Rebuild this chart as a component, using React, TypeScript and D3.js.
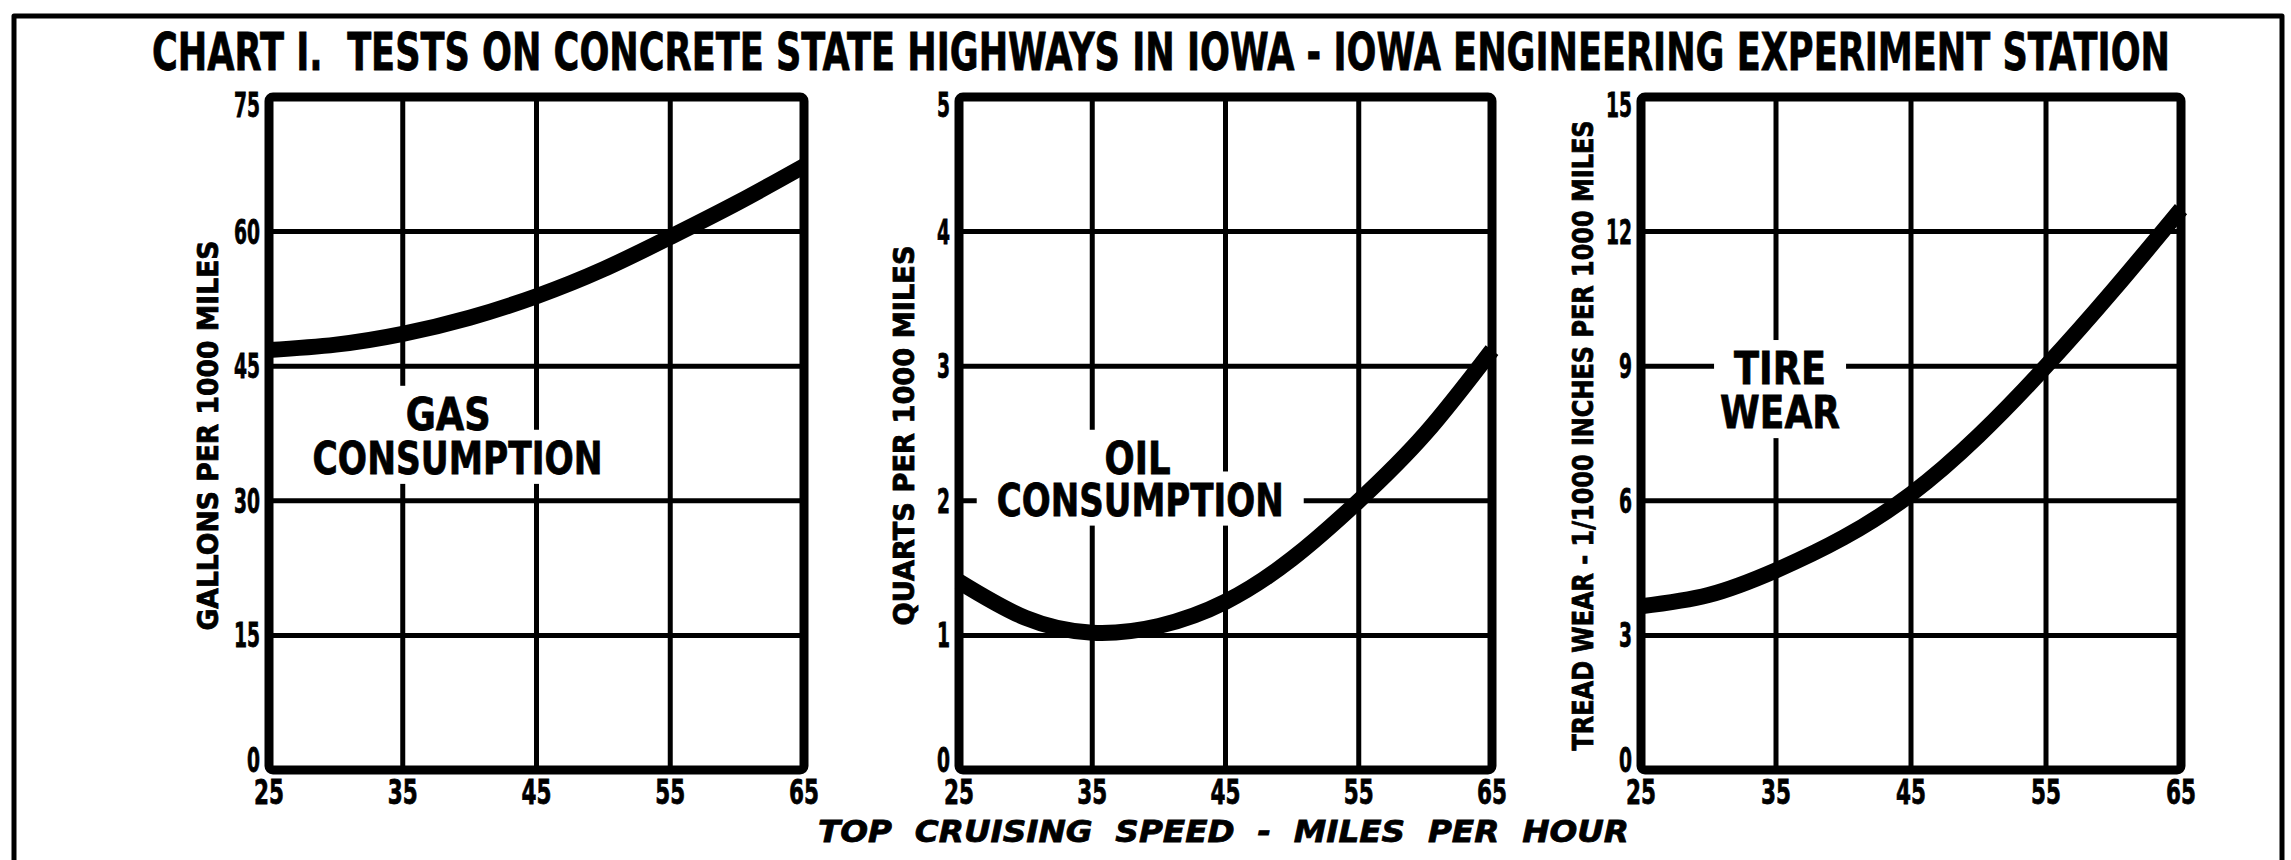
import * as d3 from "d3";

const speeds = [25, 30, 35, 40, 45, 50, 55, 60, 65];
const speedTicks = [25, 35, 45, 55, 65];

// gallons per 1000 miles
const gasValues = [46.8, 47.4, 48.6, 50.4, 52.8, 55.8, 59.4, 63.2, 67.3];
const gasTicks = [0, 15, 30, 45, 60, 75];

// quarts per 1000 miles
const oilValues = [1.4, 1.13, 1.02, 1.07, 1.25, 1.57, 2.0, 2.5, 3.12];
const oilTicks = [0, 1, 2, 3, 4, 5];

// tread wear, 1/1000 inches per 1000 miles
const tireValues = [3.65, 3.9, 4.45, 5.18, 6.15, 7.45, 9.0, 10.7, 12.5];
const tireTicks = [0, 3, 6, 9, 12, 15];

const chartTitle = "CHART I.  TESTS ON CONCRETE STATE HIGHWAYS IN IOWA - IOWA ENGINEERING EXPERIMENT STATION";
const xTitle = "TOP  CRUISING  SPEED  -  MILES  PER  HOUR";

const width = 2291;
const height = 860;
const plotTop = 97;
const plotBottom = 770;
const font = "'DejaVu Sans', Verdana, sans-serif";

interface Note {
    text: string;
    speed: number; // center, in data units
    value: number; // baseline, in data units
    len: number;
}

interface PanelDef {
    left: number;
    right: number;
    values: number[];
    ticks: number[];
    yTitle: string;
    yTitleLen: number;
    yTitleX: number;
    notes: Note[];
}

const panels: PanelDef[] = [
    {
        left: 269, right: 804, values: gasValues, ticks: gasTicks,
        yTitle: "GALLONS PER 1000 MILES", yTitleLen: 390, yTitleX: 208,
        notes: [
            {text: "GAS", speed: 38.4, value: 37.9, len: 85},
            {text: "CONSUMPTION", speed: 39.1, value: 33.0, len: 290},
        ],
    },
    {
        left: 959, right: 1492, values: oilValues, ticks: oilTicks,
        yTitle: "QUARTS PER 1000 MILES", yTitleLen: 380, yTitleX: 904,
        notes: [
            {text: "OIL", speed: 38.4, value: 2.2, len: 66},
            {text: "CONSUMPTION", speed: 38.6, value: 1.89, len: 287},
        ],
    },
    {
        left: 1641, right: 2181, values: tireValues, ticks: tireTicks,
        yTitle: "TREAD WEAR - 1/1000 INCHES PER 1000 MILES", yTitleLen: 630, yTitleX: 1583,
        notes: [
            {text: "TIRE", speed: 35.3, value: 8.6, len: 92},
            {text: "WEAR", speed: 35.3, value: 7.62, len: 120},
        ],
    },
];

// condensed bold text: squeezed by a scale so the box stays the real size
function CondText({x, y, text, size, len, sx, anchor = "start", rotate = 0, italic = false}: {
    x: number; y: number; text: string; size: number; len: number; sx: number;
    anchor?: string; rotate?: number; italic?: boolean;
}) {
    return (
        <text transform={`translate(${x},${y}) rotate(${rotate}) scale(${sx},1)`}
              textAnchor={anchor} fontFamily={font} fontWeight="bold" fontSize={size}
              fontStyle={italic ? "italic" : "normal"}
              stroke="#000" strokeWidth={0.8}
              textLength={len / sx} lengthAdjust="spacingAndGlyphs"
              style={{whiteSpace: "pre"}}>{text}</text>
    );
}

function Panel({p}: {p: PanelDef}) {
    const x = d3.scaleLinear().domain([25, 65]).range([p.left, p.right]);
    const yMax = p.ticks[p.ticks.length - 1];
    const y = d3.scaleLinear().domain([0, yMax]).range([plotBottom, plotTop]);

    const line = d3.line<number>()
        .x((_, i) => x(speeds[i]))
        .y(d => y(d))
        .curve(d3.curveNatural);

    const noteSize = 44;
    const noteCap = noteSize * 0.73;

    return (
        <g>
            {/* grid */}
            <g stroke="#000" strokeWidth={5}>
                {speedTicks.slice(1, -1).map(s => (
                    <line key={"v" + s} x1={x(s)} x2={x(s)} y1={plotTop} y2={plotBottom}/>
                ))}
                {p.ticks.slice(1, -1).map(t => (
                    <line key={"h" + t} x1={p.left} x2={p.right} y1={y(t)} y2={y(t)}/>
                ))}
            </g>

            {/* knock the grid out behind the curve names */}
            {p.notes.map(n => (
                <rect key={"r" + n.text + n.value} fill="#fff"
                      x={x(n.speed) - n.len / 2 - 20} width={n.len + 40}
                      y={y(n.value) - noteCap - 12} height={noteCap + 22}/>
            ))}
            {p.notes.map(n => (
                <CondText key={"t" + n.text + n.value} x={x(n.speed)} y={y(n.value)}
                          anchor="middle" size={noteSize} len={n.len} sx={0.8} text={n.text}/>
            ))}

            <path d={line(p.values) ?? ""} fill="none" stroke="#000" strokeWidth={16}/>

            <rect x={p.left} y={plotTop} width={p.right - p.left} height={plotBottom - plotTop}
                  fill="none" stroke="#000" strokeWidth={9} strokeLinejoin="round" rx={4}/>

            {/* y ticks */}
            {p.ticks.map((t, i) => {
                const shift = i === 0 ? -10 : i === p.ticks.length - 1 ? 8 : 0;
                const s = String(t);
                return (
                    <CondText key={"yt" + t} x={p.left - 9} y={y(t) + shift + 12} anchor="end"
                              size={34} len={s.length * 13} sx={0.62} text={s}/>
                );
            })}

            {/* x ticks */}
            {speedTicks.map(s => (
                <CondText key={"xt" + s} x={x(s)} y={804} anchor="middle"
                          size={33} len={30} sx={0.65} text={String(s)}/>
            ))}

            <CondText x={p.yTitleX + 10} y={(plotTop + plotBottom) / 2 + 2} rotate={-90}
                      anchor="middle" size={28} len={p.yTitleLen} sx={0.82} text={p.yTitle}/>
        </g>
    );
}

export default function App() {
    return (
        <svg width={width} height={height} viewBox={`0 0 ${width} ${height}`}
             style={{position: "absolute", left: 0, top: 0, background: "#fff"}}>
            <rect width={width} height={height} fill="#fff"/>
            <path d="M14,860 V16 H2282 V860" fill="none" stroke="#000" strokeWidth={5} strokeLinejoin="round"/>

            <CondText x={152} y={70} size={51} len={2018} sx={0.66} text={chartTitle}/>

            {panels.map((p, i) => <Panel key={i} p={p}/>)}

            <CondText x={818} y={842} size={31} len={811} sx={0.95} italic text={xTitle}/>
        </svg>
    );
}
